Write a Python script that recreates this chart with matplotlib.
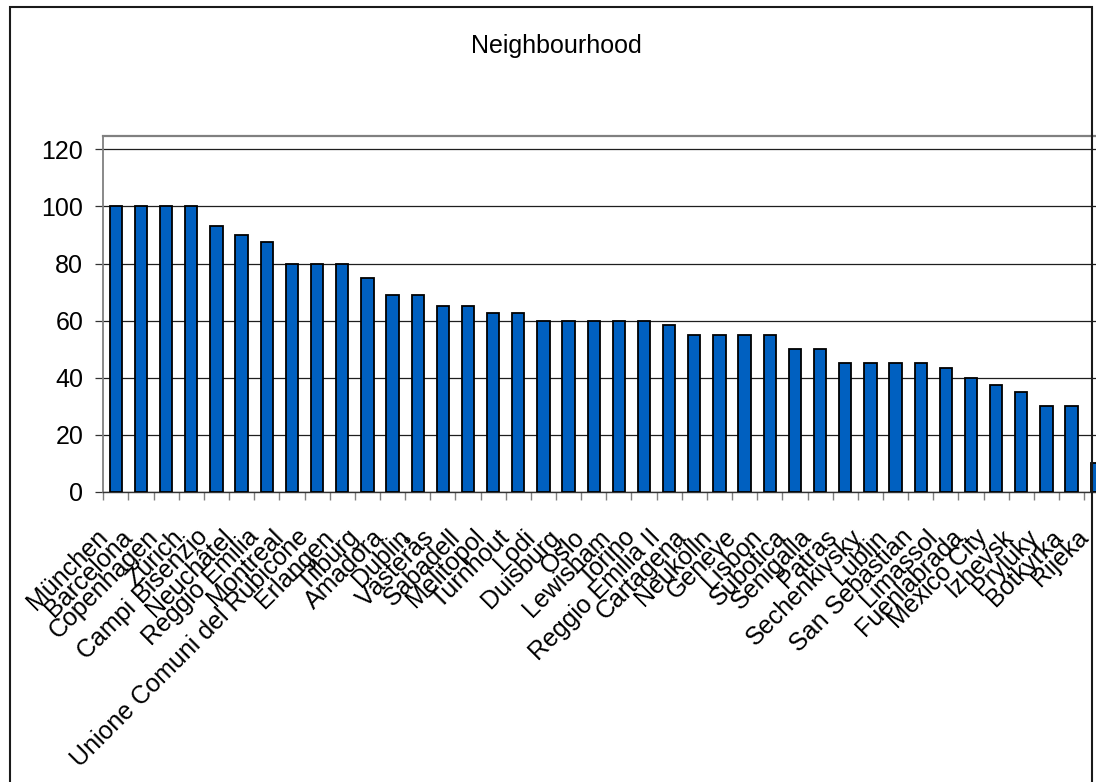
import numpy as np
import matplotlib
matplotlib.use("Agg")
import matplotlib.pyplot as plt
from matplotlib.patches import Rectangle
from matplotlib.transforms import ScaledTranslation

plt.rcParams['font.family'] = ['Liberation Sans', 'DejaVu Sans']

# Neighbourhood scores per city
cities = [
    "München", "Barcelona", "Copenhagen", "Zürich", "Campi Bisenzio",
    "Neuchâtel", "Reggio Emilia", "Montreal", "Unione Comuni del Rubicone",
    "Erlangen", "Tilburg", "Amadora", "Dublin", "Västerås", "Sabadell",
    "Melitopol", "Turnhout", "Lodi", "Duisburg", "Oslo", "Lewisham",
    "Torino", "Reggio Emilia II", "Cartagena", "Neukölln", "Geneve",
    "Lisbon", "Subotica", "Senigalla", "Patras", "Sechenkivsky", "Lublin",
    "San Sebastian", "Limassol", "Fuenlabrada", "Mexico City", "Izhevsk",
    "Pryluky", "Botkyrka", "Rijeka",
]
scores = [
    100, 100, 100, 100, 93.3,
    90, 87.5, 80, 80,
    80, 75, 68.8, 68.8, 65, 65,
    62.5, 62.5, 60, 60, 60, 60,
    60, 58.3, 55, 55, 55,
    55, 50, 50, 45, 45, 45,
    45, 43.5, 40, 37.5, 35,
    30, 30, 10,
]
y_ticks = [0, 20, 40, 60, 80, 100, 120]
y_max = 124.7
title = "Neighbourhood"

W, H = 1096, 782
FS = 18
fig = plt.figure(figsize=(W / 100, H / 100), dpi=100)

# plot area (extends past the right edge of the canvas)
left_px, bottom_px, top_px = 103.3, 491.7, 136.0
width_px = 25.15 * len(cities)
ax = fig.add_axes([left_px / W, 1 - bottom_px / H, width_px / W,
                   (bottom_px - top_px) / H])

x = np.arange(len(cities))
ax.bar(x, scores, width=0.49, color="#0060C0", edgecolor="black",
       linewidth=1.3, zorder=3)

ax.set_xlim(-0.5, len(cities) - 0.5)
ax.set_ylim(0, y_max)
ax.set_yticks(y_ticks)
ax.set_yticklabels([str(v) for v in y_ticks], fontsize=FS)
ax.yaxis.grid(True, color="#1e1e1e", linewidth=0.9, zorder=0)
ax.set_axisbelow(True)
ax.tick_params(axis="y", length=6, width=0.9, color="#333333", pad=8.5)

# category boundaries get tick marks; labels sit on bar centres
ax.set_xticks(np.arange(-0.5, len(cities), 1.0))
ax.set_xticklabels([])
ax.tick_params(axis="x", which="major", length=5.5, width=1.0,
               color="#808080", direction="out")
ax.set_xticks(x, minor=True)
ax.set_xticklabels(cities, minor=True, rotation=45, ha="right",
                   va="center", rotation_mode="anchor", fontsize=FS)
ax.tick_params(axis="x", which="minor", length=0, pad=30)
shift = ScaledTranslation(-12 / 100, 0, fig.dpi_scale_trans)
for lab in ax.get_xticklabels(minor=True):
    lab.set_transform(lab.get_transform() + shift)

ax.spines["top"].set_color("#808080")
ax.spines["top"].set_linewidth(1.6)
ax.spines["left"].set_color("#808080")
ax.spines["left"].set_linewidth(1.3)
ax.spines["right"].set_visible(False)
ax.spines["bottom"].set_color("#333333")
ax.spines["bottom"].set_linewidth(1.0)

# chart title
fig.text(556 / W, 1 - 46 / H, title, ha="center", va="center", fontsize=FS)

# outer chart frame
fig.patches.append(Rectangle((10 / W, -0.1), (1091.7 - 10) / W,
                             1.1 - 7.3 / H, transform=fig.transFigure,
                             fill=False, edgecolor="#1a1a1a", linewidth=1.5,
                             zorder=10))

fig.savefig("out.png", dpi=100)
